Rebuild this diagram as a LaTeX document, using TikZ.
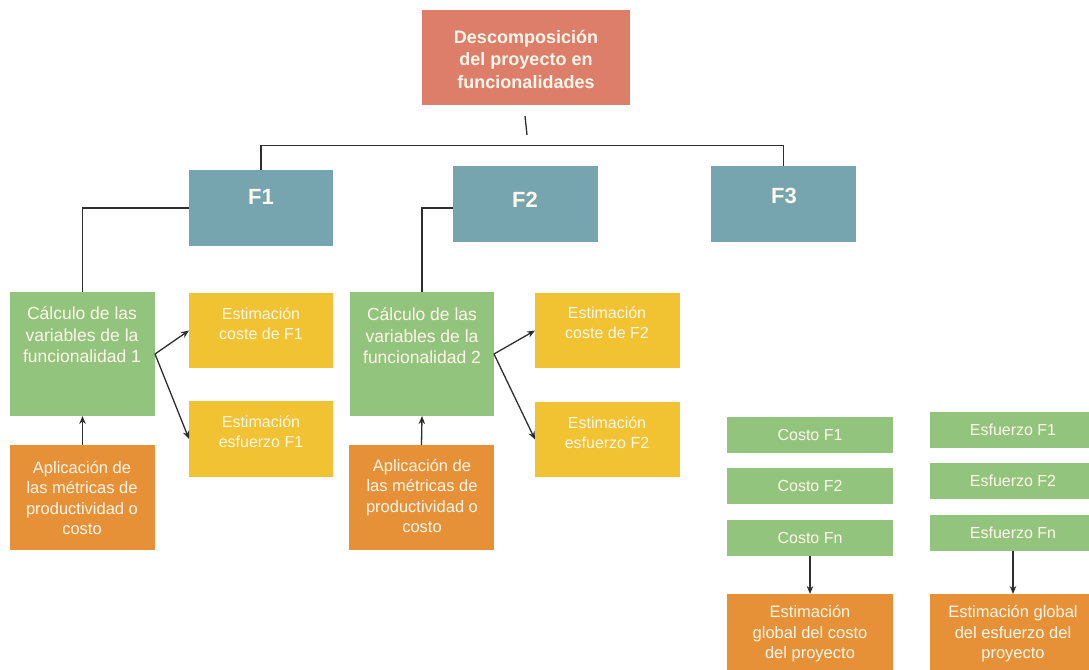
\documentclass[tikz,border=0pt]{standalone}
\usepackage{fontspec}
\setmainfont{Liberation Sans}
\usetikzlibrary{arrows.meta,calc}

\definecolor{cSalmon}{HTML}{DD7E6B}
\definecolor{cTeal}{HTML}{76A5AF}
\definecolor{cGreen}{HTML}{93C47D}
\definecolor{cYellow}{HTML}{F1C232}
\definecolor{cOrange}{HTML}{E69138}
\definecolor{cText}{HTML}{FFF7EA}
\definecolor{cLine}{HTML}{2E2E2E}

% filled panel from (x1,y1) to (x2,y2): name, style, x1, y1, x2, y2
\newcommand{\panel}[6]{%
  \node[#2, anchor=north west, minimum width={(#5)-(#3)},
        minimum height={(#6)-(#4)}] (#1) at (#3,#4) {};}

\begin{document}
\begin{tikzpicture}[x=1pt, y=-1pt,
  pnl/.style={draw=none, inner sep=0pt, outer sep=0pt},
  redbox/.style={pnl, fill=cSalmon},
  tealbox/.style={pnl, fill=cTeal},
  greenbox/.style={pnl, fill=cGreen},
  yellowbox/.style={pnl, fill=cYellow},
  orangebox/.style={pnl, fill=cOrange},
  txt/.style={text=cText, align=center, inner sep=0pt},
  titletxt/.style={txt, font=\bfseries\fontsize{18}{22.5}\selectfont},
  ftxt/.style={txt, font=\bfseries\fontsize{22}{26}\selectfont},
  bigtxt/.style={txt, font=\fontsize{17.5}{21.5}\selectfont},
  smalltxt/.style={txt, font=\fontsize{16}{20}\selectfont},
  medtxt/.style={txt, font=\fontsize{16.5}{20.5}\selectfont},
  link/.style={draw=cLine, line width=1.3pt},
  arr/.style={link, -{Stealth[length=8pt, width=6.5pt]}}
]
\useasboundingbox (0,0) rectangle (1089,669);
\fill[white] (0,0) rectangle (1089,669);
\clip (0,0) rectangle (1089,669);

% ---- panels ----
\panel{top}{redbox}{422}{10}{630}{105}
\panel{f1}{tealbox}{189}{170}{333}{246}
\panel{f2}{tealbox}{453}{166}{598}{242}
\panel{f3}{tealbox}{711}{166}{856}{242}

\panel{g1}{greenbox}{10}{292}{155}{416}
\panel{y1a}{yellowbox}{189}{293}{333}{368}
\panel{y1b}{yellowbox}{189}{401}{333}{477}
\panel{o1}{orangebox}{10}{445}{155}{550}

\panel{g2}{greenbox}{350}{292}{494}{416}
\panel{y2a}{yellowbox}{535}{293}{680}{368}
\panel{y2b}{yellowbox}{535}{402}{680}{477}
\panel{o2}{orangebox}{349}{445}{494}{550}

\panel{c1}{greenbox}{727}{417}{893}{453}
\panel{c2}{greenbox}{727}{468}{893}{504}
\panel{cn}{greenbox}{727}{520}{893}{556}
\panel{e1}{greenbox}{930}{412}{1096}{448}
\panel{e2}{greenbox}{930}{463}{1096}{499}
\panel{en}{greenbox}{930}{515}{1096}{551}
\panel{o3}{orangebox}{727}{594}{893}{675}
\panel{o4}{orangebox}{930}{594}{1096}{675}

% ---- texts ----
\node[titletxt] (topt) at (526,59) {Descomposición\\del proyecto en\\funcionalidades};
\node[ftxt] (f1t) at (261,197) {F1};
\node[ftxt] (f2t) at (525,200) {F2};
\node[ftxt] (f3t) at (784,196) {F3};

\node[bigtxt] (g1t) at (82,335) {Cálculo de las\\variables de la\\funcionalidad 1};
\node[smalltxt] (y1at) at (261,324) {Estimación\\coste de F1};
\node[smalltxt] (y1bt) at (261,432) {Estimación\\esfuerzo F1};
\node[medtxt] (o1t) at (82,498) {Aplicación de\\las métricas de\\productividad o\\costo};

\node[bigtxt] (g2t) at (422,336) {Cálculo de las\\variables de la\\funcionalidad 2};
\node[smalltxt] (y2at) at (607,323) {Estimación\\coste de F2};
\node[smalltxt] (y2bt) at (607,433) {Estimación\\esfuerzo F2};
\node[medtxt] (o2t) at (422,496) {Aplicación de\\las métricas de\\productividad o\\costo};

\node[smalltxt] (c1t) at (c1) {Costo F1};
\node[smalltxt] (c2t) at (c2) {Costo F2};
\node[smalltxt] (cnt) at (cn) {Costo Fn};
\node[smalltxt] (e1t) at (1013,430) {Esfuerzo F1};
\node[smalltxt] (e2t) at (1013,481) {Esfuerzo F2};
\node[smalltxt] (ent) at (1013,533) {Esfuerzo Fn};
\node[medtxt] (o3t) at (810,634) {Estimación\\global del costo\\del proyecto};
\node[medtxt] (o4t) at (1013,634) {Estimación global\\del esfuerzo del\\proyecto};

% ---- connectors ----
\coordinate (stubA) at (525,116);
\coordinate (stubB) at (527,135);
\coordinate (bar) at (0,145.5);
\draw[link] (stubA) -- (stubB);
\draw[link] (f1.north) -- (f1.north |- bar) -| (f3.north);
\draw[link] (f1.west) -| (g1.north);
\draw[link] (f1.west -| f2.west) -| (g2.north);

\draw[arr] (o1.north) -- (g1.south);
\draw[arr] (g1.east) -- (y1a.west);
\draw[arr] (g1.east) -- (y1b.west);
\draw[arr] (o2.north) -- (g2.south);
\draw[arr] (g2.east) -- (y2a.west);
\draw[arr] (g2.east) -- (y2b.west);

\draw[arr] (cn.south) -- (o3.north);
\draw[arr] (en.south -| o4t) -- (o4.north -| o4t);
\end{tikzpicture}
\end{document}
